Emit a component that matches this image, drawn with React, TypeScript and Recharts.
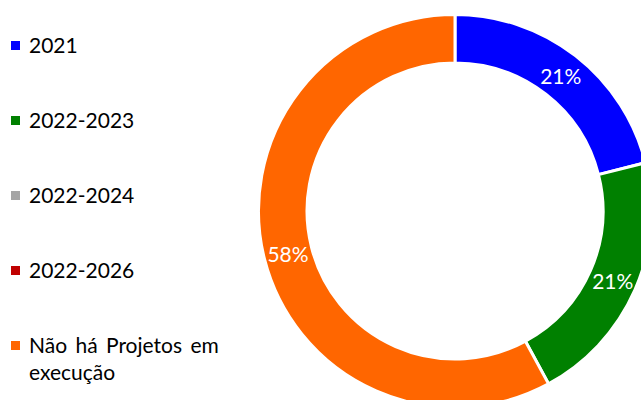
import React from "react";
import { PieChart, Pie, Cell, Legend } from "recharts";

const categories = ["2021", "2022-2023", "2022-2024", "2022-2026", "Não há Projetos em execução"];
const values = [4, 4, 0, 0, 11];
const colors = ["#0000FF", "#008000", "#A5A5A5", "#C00000", "#FF6600"];

const data = categories.map((name, i) => ({ name, value: values[i] }));

const FONT = "Lato, 'Open Sans', sans-serif";
const RAD = Math.PI / 180;

const renderLabel = (p: any) => {
  if (!p.value) return null;
  const r = (p.innerRadius + p.outerRadius) / 2;
  const x = p.cx + r * Math.cos(-p.midAngle * RAD);
  const y = p.cy + r * Math.sin(-p.midAngle * RAD);
  return (
    <text x={x} y={y} fill="#FFFFFF" textAnchor="middle" dominantBaseline="central" fontFamily={FONT} fontSize={21}>
      {`${Math.round(p.percent * 100)}%`}
    </text>
  );
};

const renderLegend = () => (
  <div style={{ position: "relative", width: 240, height: 400 }}>
    {categories.map((c, i) => (
      <div key={c} style={{ position: "absolute", left: 0, top: 45 + i * 75 - 14, display: "flex", alignItems: "flex-start" }}>
        <div style={{ width: 9, height: 9, background: colors[i], marginLeft: 11, marginTop: 10, flex: "none" }} />
        <div style={{ marginLeft: 9, width: 205, fontFamily: FONT, fontSize: 21, wordSpacing: 3, lineHeight: "27px", color: "#000" }}>{c}</div>
      </div>
    ))}
  </div>
);

export default function App() {
  return (
    <div style={{ position: "absolute", left: 0, top: 0, width: 641, height: 400, background: "#fff" }}>
      <PieChart width={641} height={400} margin={{ top: 0, right: 0, bottom: 0, left: 0 }}>
        <Pie
          data={data}
          dataKey="value"
          nameKey="name"
          cx={455}
          cy={211}
          innerRadius={148}
          outerRadius={196.5}
          startAngle={90}
          endAngle={-270}
          stroke="#FFFFFF"
          strokeWidth={3}
          label={renderLabel}
          labelLine={false}
          isAnimationActive={false}
        >
          {data.map((d, i) => (
            <Cell key={d.name} fill={colors[i]} />
          ))}
        </Pie>
        <Legend
          content={renderLegend}
          wrapperStyle={{ position: "absolute", left: 0, top: 0, width: 240, height: 400 }}
        />
      </PieChart>
    </div>
  );
}
